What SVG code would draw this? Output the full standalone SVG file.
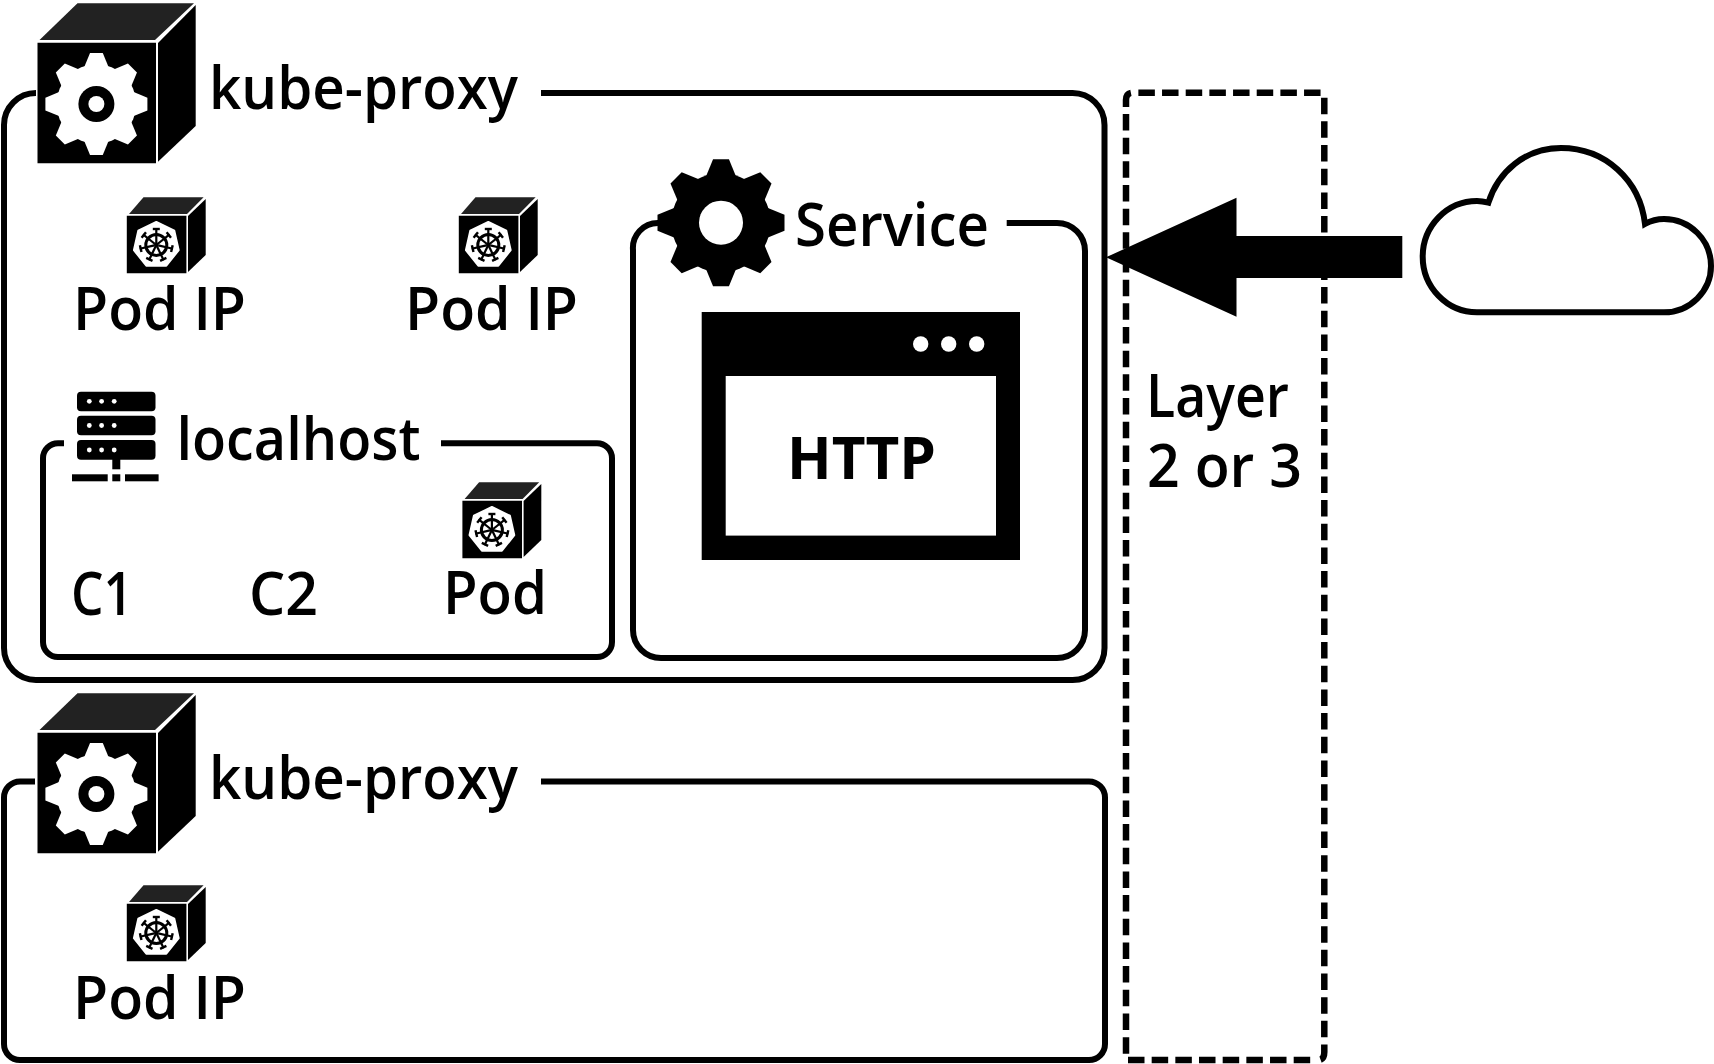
<svg xmlns="http://www.w3.org/2000/svg" width="1714" height="1064" viewBox="0 0 1714 1064">
<style>
text{font-family:"Open Sans","Noto Sans","Liberation Sans",sans-serif;font-weight:600;font-size:59px;fill:#000}
.box{fill:none;stroke:#000;stroke-width:6}
.dash{fill:none;stroke:#000;stroke-width:6.5;stroke-dasharray:16.5 7.17}
</style>
<defs>
<g id="gear">
<circle r="0.78"/>
<polygon id="t" points="-0.125,-1 0.125,-1 0.24,-0.72 -0.24,-0.72"/>
<use href="#t" transform="rotate(45)"/><use href="#t" transform="rotate(90)"/><use href="#t" transform="rotate(135)"/><use href="#t" transform="rotate(180)"/><use href="#t" transform="rotate(225)"/><use href="#t" transform="rotate(270)"/><use href="#t" transform="rotate(315)"/>
</g>
<g id="bigcube">
<polygon points="37.5,42.7 156,42.7 156,163.3 37.5,163.3" fill="#000"/>
<polygon points="77.5,3.3 194,3.3 155,40 39.5,40" fill="#222"/>
<polygon points="195.7,5 195.7,126 158,161.7 158,43" fill="#000"/>
<use href="#gear" fill="#fff" transform="translate(96.4 104) scale(51)"/>
<circle cx="96.4" cy="104" r="18" fill="#000"/>
<circle cx="96.4" cy="104" r="8" fill="#fff"/>
</g>
<g id="wheelspoke"><line x1="0" y1="-2" x2="0" y2="-17" stroke="#000" stroke-width="2.2"/><line x1="-3.5" y1="-16" x2="3.5" y2="-16" stroke="#000" stroke-width="2.4"/></g>
<g id="podcube">
<polygon points="126.8,215.7 186.4,215.7 186.4,273.3 126.8,273.3" fill="#000"/>
<polygon points="143.5,197.3 203.6,197.3 187,214 129,214" fill="#222"/>
<polygon points="205.7,199 205.7,255 188,272 188,216" fill="#000"/>
<g transform="translate(156.3 245)">
<polygon points="0,-23 18,-14.3 22.4,5.1 10,20.7 -10,20.7 -22.4,5.1 -18,-14.3" fill="#fff" stroke="#fff" stroke-width="2" stroke-linejoin="round"/>
<circle r="10.5" fill="none" stroke="#000" stroke-width="3"/>
<circle r="2.4" fill="#000"/>
<use href="#wheelspoke"/>
<use href="#wheelspoke" transform="rotate(51.43)"/>
<use href="#wheelspoke" transform="rotate(102.86)"/>
<use href="#wheelspoke" transform="rotate(154.29)"/>
<use href="#wheelspoke" transform="rotate(205.71)"/>
<use href="#wheelspoke" transform="rotate(257.14)"/>
<use href="#wheelspoke" transform="rotate(308.57)"/>
</g>
</g>
</defs>
<rect width="1714" height="1064" fill="#fff"/>

<g id="node1">
<path class="box" d="M36 93A32 32 0 0 0 4 125V648A32 32 0 0 0 36 680H1072A32 32 0 0 0 1104.5 648V125A32 32 0 0 0 1072 93H541"/>
<use href="#bigcube"/>
<text x="209" y="109" textLength="309" lengthAdjust="spacingAndGlyphs">kube-proxy</text>
</g>
<g id="pod1"><use href="#podcube"/><text x="73" y="329.5" textLength="173" lengthAdjust="spacingAndGlyphs">Pod IP</text></g>
<g id="pod2"><use href="#podcube" x="332"/><text x="405" y="329.5" textLength="173" lengthAdjust="spacingAndGlyphs">Pod IP</text></g>

<g id="localhost">
<path class="box" d="M64 443.3H58A15 15 0 0 0 43 458.3V642A15 15 0 0 0 58 657H597A15 15 0 0 0 612 642V458.3A15 15 0 0 0 597 443.3H441"/>
<rect x="77" y="391.7" width="78.5" height="19.5" rx="4"/>
<rect x="77" y="415.7" width="78.5" height="19.5" rx="4"/>
<rect x="77" y="440" width="78.5" height="19.7" rx="4"/>
<g fill="#fff"><circle cx="89.3" cy="401.3" r="2.4"/><circle cx="101.6" cy="401.3" r="2.4"/><circle cx="114.2" cy="401.3" r="2.4"/><circle cx="89.3" cy="425.5" r="2.4"/><circle cx="101.6" cy="425.5" r="2.4"/><circle cx="114.2" cy="425.5" r="2.4"/><circle cx="89.3" cy="450" r="2.4"/><circle cx="101.6" cy="450" r="2.4"/><circle cx="114.2" cy="450" r="2.4"/></g>
<rect x="112.3" y="459" width="8" height="10.3"/>
<rect x="72" y="474.3" width="35.7" height="7"/><rect x="112.3" y="474.3" width="8" height="7"/><rect x="125" y="474.3" width="33.6" height="7"/>
<text x="176.5" y="460" textLength="244" lengthAdjust="spacingAndGlyphs">localhost</text>
<text x="71" y="615" textLength="62" lengthAdjust="spacingAndGlyphs">C1</text>
<text x="249" y="615" textLength="69" lengthAdjust="spacingAndGlyphs">C2</text>
</g>
<g id="pod3"><use href="#podcube" x="335.6" y="285"/><text x="443" y="614" textLength="104" lengthAdjust="spacingAndGlyphs">Pod</text></g>

<g id="service">
<path class="box" d="M658 223A25 25 0 0 0 633 250V630A28 28 0 0 0 661 658H1057A28 28 0 0 0 1085 630V251A28 28 0 0 0 1057 223H1006.7"/>
<use href="#gear" fill="#000" transform="translate(721 222.7) scale(63.5)"/>
<circle cx="721" cy="222.7" r="22" fill="#fff"/>
<text x="795" y="246" textLength="194" lengthAdjust="spacingAndGlyphs">Service</text>
</g>
<g id="http">
<rect x="701.7" y="312" width="318.3" height="248"/>
<rect x="725.7" y="376" width="270.3" height="159.6" fill="#fff"/>
<g fill="#fff"><circle cx="920.7" cy="344" r="7.7"/><circle cx="948.7" cy="344" r="7.7"/><circle cx="976.7" cy="344" r="7.7"/></g>
<text x="787" y="479" textLength="149" lengthAdjust="spacingAndGlyphs" style="font-weight:700">HTTP</text>
</g>

<g id="node2">
<path class="box" d="M35 781.5H20A16 16 0 0 0 4 797.5V1044A16 16 0 0 0 20 1060H1089A16 16 0 0 0 1105 1044V797.5A16 16 0 0 0 1089 781.5H541"/>
<use href="#bigcube" y="690"/>
<text x="209" y="799" textLength="309" lengthAdjust="spacingAndGlyphs">kube-proxy</text>
</g>
<g id="pod4"><use href="#podcube" y="688"/><text x="73" y="1018.5" textLength="173" lengthAdjust="spacingAndGlyphs">Pod IP</text></g>

<g id="layer">
<path class="dash" d="M1126 107V100Q1126 92.7 1133 92.7H1322"/>
<path class="dash" d="M1126 114V1056"/>
<path class="dash" d="M1324.3 97.7V1052Q1324.3 1060 1318 1060"/>
<path class="dash" d="M1128 1060H1312"/>
<text x="1146" y="417" textLength="143" lengthAdjust="spacingAndGlyphs">Layer</text>
<text x="1147" y="487" textLength="155" lengthAdjust="spacingAndGlyphs">2 or 3</text>
</g>
<g id="cloud">
<path d="M1477 312.3H1664C1690 312.3 1711 291 1711 266C1711 240 1690 219 1664 219Q1654 219 1645 224C1640 180 1605 148 1561 148C1525 148 1498 172 1488.4 202.7Q1482 201 1477 201C1447 201 1422.7 226 1422.7 256.7C1422.7 287 1447 312.3 1477 312.3Z" fill="#fff" stroke="#000" stroke-width="6"/>
</g>
<g id="connectors">
<polygon points="1106,257.3 1236.5,197.7 1236.5,236 1402.3,236 1402.3,278 1236.5,278 1236.5,316.7" fill="#000"/>
</g>
</svg>
